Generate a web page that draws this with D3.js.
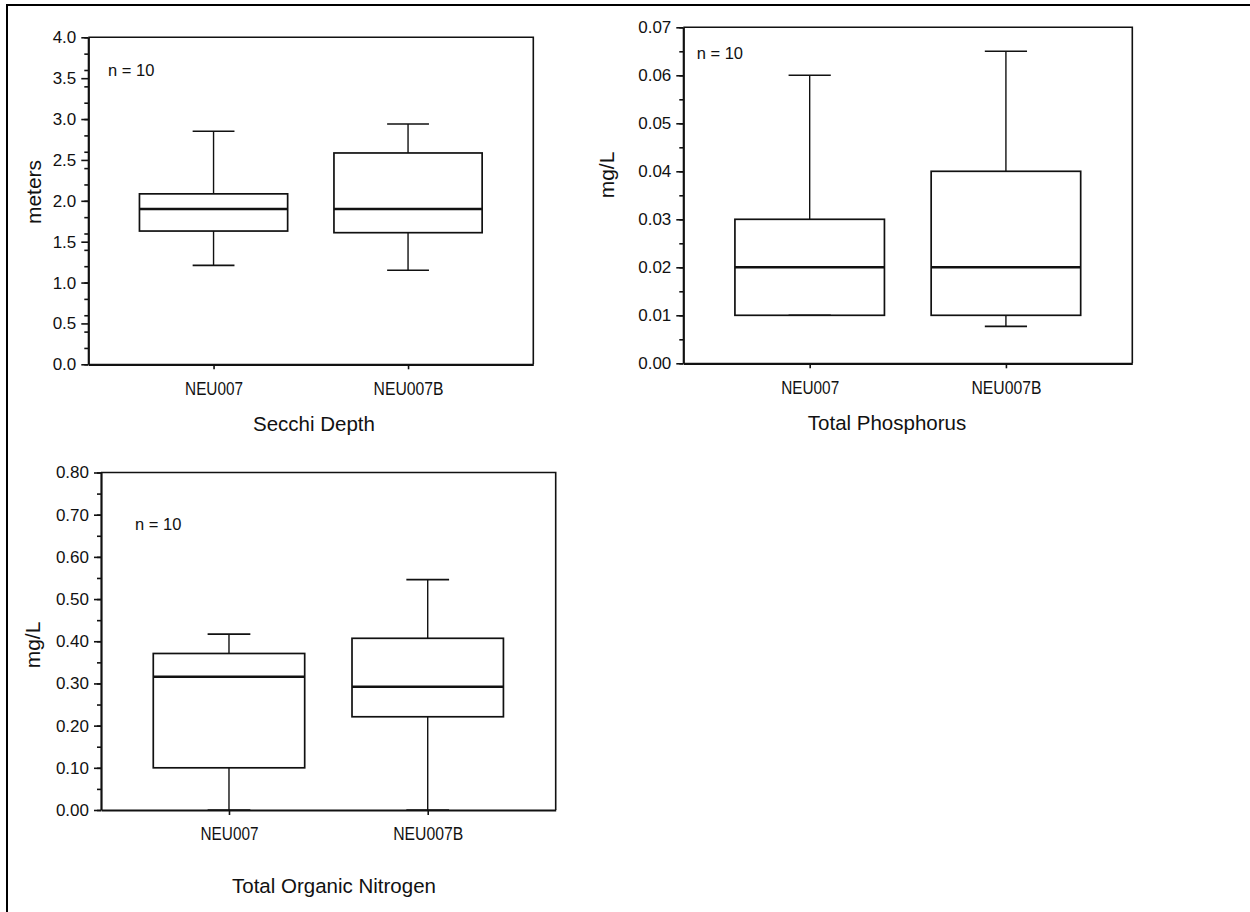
<!DOCTYPE html>
<html>
<head>
<meta charset="utf-8">
<script src="https://cdn.jsdelivr.net/npm/d3@7"></script>
<style>
  body { margin: 0; background: #fff; }
  svg { display: block; font-family: "Liberation Sans", Arial, sans-serif; }
</style>
</head>
<body>
<div id="main"></div>
<script>
// site categories, shared by every panel
const categories = ["NEU007", "NEU007B"];

// box stats per site: [min, q1, median, q3, max]
const secchiBoxes = [
    [1.21, 1.63, 1.90, 2.085, 2.85],
    [1.15, 1.61, 1.90, 2.585, 2.94]
];
const phosphorusBoxes = [
    [0.010, 0.010, 0.020, 0.030, 0.060],
    [0.0077, 0.010, 0.020, 0.040, 0.065]
];
const nitrogenBoxes = [
    [0.000, 0.100, 0.316, 0.371, 0.417],
    [0.000, 0.221, 0.292, 0.407, 0.546]
];

const sampleLabel = "n = 10";

const ctx = {
    WIDTH: 1250,
    HEIGHT: 912,
};

// layout of the three panels (page coords)
const panels = [
    {data: secchiBoxes, left: 88.3, right: 533.3, top: 37.3, bottom: 364.3,
     yMax: 4.0, nMajor: 8, nMinor: 16, fmt: ".1f",
     ylabel: "meters", ylabelX: 33, ylabelY: 192,
     title: "Secchi Depth", titleX: 314, titleY: 431, nX: 108, nY: 76},
    {data: phosphorusBoxes, left: 683.3, right: 1132.3, top: 27.3, bottom: 363.3,
     yMax: 0.07, nMajor: 7, nMinor: 14, fmt: ".2f",
     ylabel: "mg/L", ylabelX: 606, ylabelY: 175,
     title: "Total Phosphorus", titleX: 887, titleY: 430, nX: 696.7, nY: 59.3},
    {data: nitrogenBoxes, left: 101, right: 555.7, top: 472.5, bottom: 810,
     yMax: 0.8, nMajor: 8, nMinor: 16, fmt: ".2f",
     ylabel: "mg/L", ylabelX: 32, ylabelY: 645,
     title: "Total Organic Nitrogen", titleX: 334, titleY: 893, nX: 135, nY: 530}
];

function drawPanel(svg, p){
    let g = svg.append("g");
    let pw = p.right - p.left;

    let x = d3.scalePoint().domain(categories).range([p.left, p.right]).padding(0.644);
    let y = d3.scaleLinear().domain([0, p.yMax]).range([p.bottom, p.top]);
    let boxW = pw * 0.333;
    let capW = pw * 0.094;

    // frame (top + right)
    g.append("path")
        .attr("d", `M${p.left},${p.top}H${p.right}V${p.bottom}`)
        .attr("fill", "none").attr("stroke", "#111").attr("stroke-width", 1.6);

    // minor ticks
    let minor = g.append("g").attr("transform", `translate(${p.left},0)`)
        .call(d3.axisLeft(y).tickValues(d3.ticks(0, p.yMax, p.nMinor)).tickSize(4).tickFormat(""));
    minor.select(".domain").remove();

    // y axis
    let yAx = g.append("g").attr("transform", `translate(${p.left},0)`)
        .call(d3.axisLeft(y).tickValues(d3.ticks(0, p.yMax, p.nMajor))
              .tickSize(7).tickSizeOuter(0).tickPadding(5).tickFormat(d3.format(p.fmt)));
    yAx.selectAll("text").attr("font-size", 17).attr("fill", "#111")
        .attr("font-family", "Liberation Sans, Arial, sans-serif");

    // x axis
    let xAx = g.append("g").attr("transform", `translate(0,${p.bottom})`)
        .call(d3.axisBottom(x).tickSize(5).tickSizeOuter(0).tickPadding(12));
    xAx.selectAll("text").attr("font-size", 19).attr("fill", "#111")
        .attr("font-family", "Liberation Sans, Arial, sans-serif")
        .attr("textLength", (d, i) => i === 0 ? 58 : 70)
        .attr("lengthAdjust", "spacingAndGlyphs");

    [yAx, xAx, minor].forEach(a => {
        a.selectAll("line").attr("stroke", "#111").attr("stroke-width", 1.6);
        a.select(".domain").attr("stroke", "#111").attr("stroke-width", 2.2);
    });

    // boxes
    let boxes = g.selectAll(".box").data(p.data).enter().append("g").attr("class", "box");
    let cx = (d, i) => x(categories[i]);

    // whiskers
    boxes.append("line")
        .attr("x1", cx).attr("x2", cx)
        .attr("y1", d => y(d[4])).attr("y2", d => y(d[3]))
        .attr("stroke", "#111").attr("stroke-width", 1.4);
    boxes.append("line")
        .attr("x1", cx).attr("x2", cx)
        .attr("y1", d => y(d[1])).attr("y2", d => y(d[0]))
        .attr("stroke", "#111").attr("stroke-width", 1.4);
    // caps
    [0, 4].forEach(k => {
        boxes.append("line")
            .attr("x1", (d, i) => cx(d, i) - capW/2).attr("x2", (d, i) => cx(d, i) + capW/2)
            .attr("y1", d => y(d[k])).attr("y2", d => y(d[k]))
            .attr("stroke", "#111").attr("stroke-width", 1.6);
    });
    boxes.append("rect")
        .attr("x", (d, i) => cx(d, i) - boxW/2)
        .attr("width", boxW)
        .attr("y", d => y(d[3]))
        .attr("height", d => y(d[1]) - y(d[3]))
        .attr("fill", "none").attr("stroke", "#111").attr("stroke-width", 1.7);
    boxes.append("line")
        .attr("x1", (d, i) => cx(d, i) - boxW/2).attr("x2", (d, i) => cx(d, i) + boxW/2)
        .attr("y1", d => y(d[2])).attr("y2", d => y(d[2]))
        .attr("stroke", "#111").attr("stroke-width", 2.4);

    // texts
    g.append("text").attr("x", p.nX).attr("y", p.nY)
        .attr("font-size", 16.5).attr("fill", "#111").text(sampleLabel);
    g.append("text")
        .attr("transform", `translate(${p.ylabelX},${p.ylabelY}) rotate(-90)`)
        .attr("text-anchor", "middle").attr("dominant-baseline", "central")
        .attr("font-size", 21).attr("fill", "#111").text(p.ylabel);
    g.append("text").attr("x", p.titleX).attr("y", p.titleY)
        .attr("text-anchor", "middle").attr("font-size", 20.5).attr("fill", "#111")
        .text(p.title);
}

function createViz(){
    let svg = d3.select("#main").append("svg")
        .attr("width", ctx.WIDTH).attr("height", ctx.HEIGHT);
    // outer frame, runs past the right and bottom edges
    svg.append("rect").attr("x", 7).attr("y", 5)
        .attr("width", 1400).attr("height", 1100)
        .attr("fill", "none").attr("stroke", "#000").attr("stroke-width", 2);
    panels.forEach(p => drawPanel(svg, p));
}

createViz();
</script>
</body>
</html>
